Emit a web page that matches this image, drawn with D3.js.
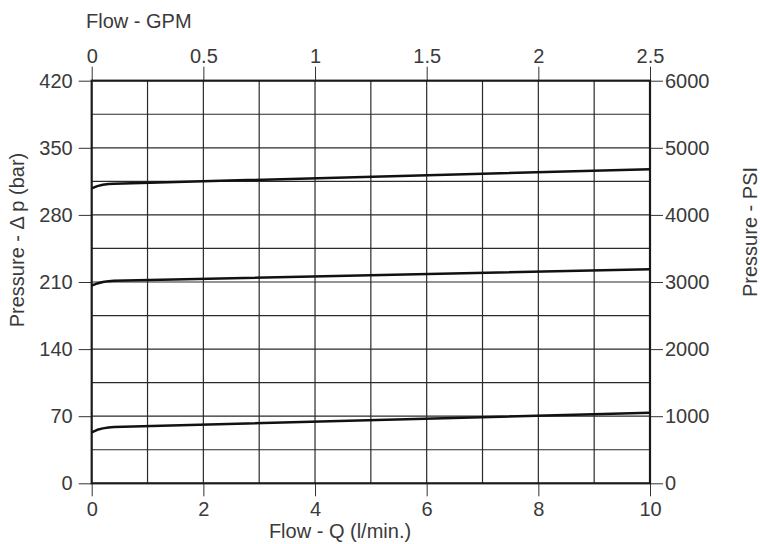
<!DOCTYPE html>
<html>
<head>
<meta charset="utf-8">
<script src="https://cdn.jsdelivr.net/npm/d3@7"></script>
<style>
  body { margin: 0; background: #fff; }
  svg text { font-family: "Liberation Sans", Arial, sans-serif; fill: #3a3a3a; }
</style>
</head>
<body>
<div id="chart"></div>
<script>
// flow points (l/min) shared by all three curves
var flowLpm = [0, 0.1, 0.2, 0.3, 0.4, 10];
// pressure (bar) for each relief setting
var curveHigh = [307.7, 310.0, 311.5, 312.2, 312.6, 327.6];
var curveMid = [206.2, 208.5, 210.0, 210.9, 211.3, 223.2];
var curveLow = [53.2, 55.8, 57.3, 58.2, 58.7, 73.6];

var flowTicks = [0, 2, 4, 6, 8, 10];
var gpmTicks = [0, 0.5, 1, 1.5, 2, 2.5];
var barTicks = [0, 70, 140, 210, 280, 350, 420];
var psiTicks = [0, 1000, 2000, 3000, 4000, 5000, 6000];
var gridFlow = [1, 2, 3, 4, 5, 6, 7, 8, 9];
var gridBar = [35, 70, 105, 140, 175, 210, 245, 280, 315, 350, 385];

var chartWidth = 760, chartHeight = 544;
var plotLeft = 91.7, plotRight = 650, plotTop = 80.7, plotBottom = 483.3;
var fontSize = '20px';

var svg = d3.select('#chart').append('svg')
  .attr('width', chartWidth)
  .attr('height', chartHeight);

var x = d3.scaleLinear().domain([0, 10]).range([plotLeft, plotRight]);
var xGpm = d3.scaleLinear().domain([0, 2.5]).range([plotLeft, plotRight]);
var y = d3.scaleLinear().domain([0, 420]).range([plotBottom, plotTop]);
var yPsi = d3.scaleLinear().domain([0, 6000]).range([plotBottom, plotTop]);

// grid
svg.append('g').selectAll('line')
  .data(gridFlow)
  .enter()
  .append('line')
  .attr('x1', function(d) { return x(d); })
  .attr('x2', function(d) { return x(d); })
  .attr('y1', plotTop)
  .attr('y2', plotBottom)
  .attr('stroke', '#2a2a2a')
  .attr('stroke-width', 1.2);

svg.append('g').selectAll('line')
  .data(gridBar)
  .enter()
  .append('line')
  .attr('x1', plotLeft)
  .attr('x2', plotRight)
  .attr('y1', function(d) { return y(d); })
  .attr('y2', function(d) { return y(d); })
  .attr('stroke', '#2a2a2a')
  .attr('stroke-width', 1.2);

// axes
function styleAxis(g) {
  g.select('.domain').remove();
  g.selectAll('.tick line').attr('stroke', '#333').attr('stroke-width', 1);
  g.selectAll('.tick text')
    .attr('font-size', fontSize)
    .attr('fill', '#3a3a3a')
    .style('font-family', '"Liberation Sans", Arial, sans-serif');
}

svg.append('g')
  .attr('transform', 'translate(0,' + plotBottom + ')')
  .call(d3.axisBottom(x).tickValues(flowTicks).tickSize(13).tickSizeOuter(0).tickPadding(6).tickFormat(d3.format('')))
  .call(styleAxis);

svg.append('g')
  .attr('transform', 'translate(0,' + plotTop + ')')
  .call(d3.axisTop(xGpm).tickValues(gpmTicks).tickSize(14).tickSizeOuter(0).tickPadding(4).tickFormat(d3.format('')))
  .call(styleAxis);

svg.append('g')
  .attr('transform', 'translate(' + plotLeft + ',0)')
  .call(d3.axisLeft(y).tickValues(barTicks).tickSize(13).tickSizeOuter(0).tickPadding(6))
  .call(styleAxis);

svg.append('g')
  .attr('transform', 'translate(' + plotRight + ',0)')
  .call(d3.axisRight(yPsi).tickValues(psiTicks).tickSize(13).tickSizeOuter(0).tickPadding(2).tickFormat(d3.format('')))
  .call(styleAxis);

// frame
svg.append('rect')
  .attr('x', plotLeft)
  .attr('y', plotTop)
  .attr('width', plotRight - plotLeft)
  .attr('height', plotBottom - plotTop)
  .attr('fill', 'none')
  .attr('stroke', '#1a1a1a')
  .attr('stroke-width', 2.2);

// curves
var line = d3.line()
  .x(function(d) { return x(d[0]); })
  .y(function(d) { return y(d[1]); });

[curveHigh, curveMid, curveLow].forEach(function(series) {
  svg.append('path')
    .datum(d3.zip(flowLpm, series))
    .attr('d', line)
    .attr('fill', 'none')
    .attr('stroke', '#111')
    .attr('stroke-width', 2.5)
    .attr('stroke-linejoin', 'round');
});

// titles
svg.append('text')
  .attr('x', 86)
  .attr('y', 27.5)
  .attr('font-size', fontSize)
  .text('Flow - GPM');

svg.append('text')
  .attr('x', 340)
  .attr('y', 538)
  .attr('text-anchor', 'middle')
  .attr('font-size', fontSize)
  .text('Flow - Q (l/min.)');

svg.append('text')
  .attr('transform', 'translate(24,240) rotate(-90)')
  .attr('text-anchor', 'middle')
  .attr('font-size', fontSize)
  .text('Pressure - Δ p (bar)');

svg.append('text')
  .attr('transform', 'translate(757,232) rotate(-90)')
  .attr('text-anchor', 'middle')
  .attr('font-size', fontSize)
  .text('Pressure - PSI');
</script>
</body>
</html>
